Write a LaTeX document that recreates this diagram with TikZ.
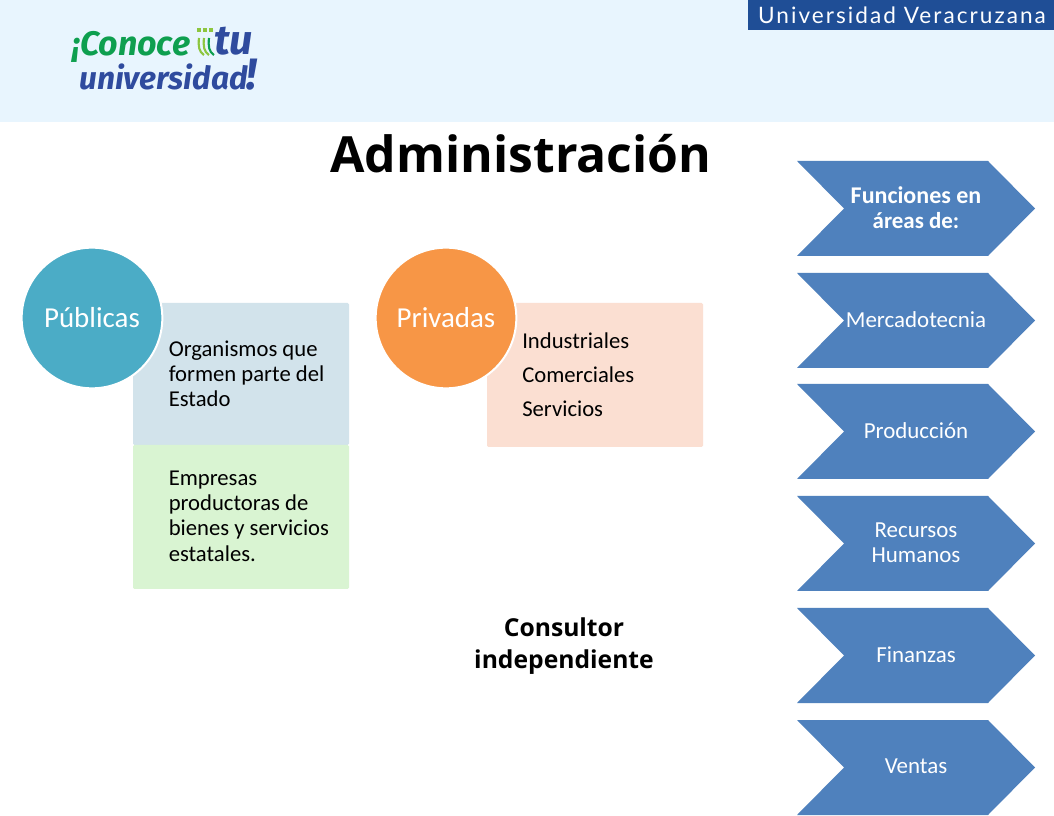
\documentclass[tikz,border=0pt]{standalone}
\usepackage{fontspec}
\setmainfont{Carlito}
\newfontfamily\titlefont{Open Sans}
\newfontfamily\logofont{Fira Sans}
\newfontfamily\barfont[LetterSpace=9]{Lato}
\definecolor{banda}{HTML}{E8F5FE}
\definecolor{barra}{HTML}{1F4E96}
\definecolor{flecha}{HTML}{4F81BD}
\definecolor{azulc}{HTML}{4BACC6}
\definecolor{naranja}{HTML}{F79646}
\definecolor{cajaazul}{HTML}{D2E3EB}
\definecolor{cajaverde}{HTML}{D9F4D2}
\definecolor{cajarosa}{HTML}{FBDFD2}
\definecolor{logoverde}{HTML}{0E9F4F}
\definecolor{logoazul}{HTML}{2F4B9E}
\definecolor{logolima}{HTML}{8DC63F}
\tikzset{
  circulo/.style={circle,draw=white,line width=1.5pt,minimum size=105.5pt,inner sep=0pt,text=white,font=\fontsize{21.7}{26}\selectfont},
  texto/.style={anchor=north west,align=left,inner sep=0pt,font=\fontsize{17}{18.8}\selectfont},
  etiqueta/.style={text=white,align=center,inner sep=0pt,font=\fontsize{17.2}{19}\selectfont},
  logo/.style={inner sep=0pt,anchor=base west,font=\logofont\bfseries\itshape\fontsize{25.5}{26}\selectfont},
}
\begin{document}
\begin{tikzpicture}[x=.75pt,y=-.75pt]
  \useasboundingbox (0,0) rectangle (1054,816);
  % encabezado
  \fill[white] (0,0) rectangle (1054,816);
  \fill[banda] (0,0) rectangle (1054,122);
  \fill[barra] (748,0) rectangle (1054,30);
  \node[text=white!90!banda,inner sep=0pt,font=\barfont\fontsize{16.95}{20}\selectfont] (uv) at (902,15) {Universidad Veracruzana};
  \node[logo,text=logoverde] (conoce) at (72,55.5) {¡Conoce};
  \node[logo,text=logoazul,font=\logofont\bfseries\itshape\fontsize{31}{31}\selectfont] (tu) at (214,55) {tu};
  \node[logo,text=logoazul,font=\logofont\bfseries\itshape\fontsize{23.8}{24}\selectfont] (univ) at (79,89.5) {universidad};
  \node[logo,text=logoazul,font=\logofont\bfseries\itshape\fontsize{33}{33}\selectfont] (excl) at (246,89.5) {!};
  \foreach \xa/\col in {199/logolima,204/logolima,209/logoverde}
    \draw[\col,line width=1.6pt] (\xa,38) .. controls (\xa-1,46) and (\xa,52) .. (\xa+5,55);
  \foreach \xa in {197,203,209}
    \fill[logolima] (\xa,28) rectangle ++(4,4);
  \node[inner sep=0pt,font=\titlefont\bfseries\fontsize{37.4}{44}\selectfont] (titulo) at (521,154) {Administración};
  % publicas
  \fill[cajaazul,rounded corners=1pt] (133,303) rectangle (349,445);
  \fill[cajaverde,rounded corners=1pt] (133,445) rectangle (349,589);
  \node[texto] (orga) at (168.5,341) {Organismos que\\formen parte del\\Estado};
  \node[texto] (empr) at (168.5,471) {Empresas\\productoras de\\bienes y servicios\\estatales.};
  \node[circulo,fill=azulc] (publicas) at (92,318) {Públicas};
  % privadas
  \fill[cajarosa,rounded corners=1pt] (487,303) rectangle (703,447);
  \node[texto,font=\fontsize{17}{25.8}\selectfont] (priv) at (522,332) {Industriales\\Comerciales\\Servicios};
  \node[circulo,fill=naranja] (privadas) at (446,318) {Privadas};
  \node[align=center,inner sep=0pt,font=\titlefont\bfseries\fontsize{18.5}{24}\selectfont] (consultor) at (564,646) {Consultor\\independiente};
  % flechas
  \foreach \ya/\nombre/\txt in {161/f1/{\fontsize{18}{19.5}\selectfont\bfseries Funciones en\\\bfseries áreas de:},273/f2/Mercadotecnia,384/f3/Producción,496/f4/Recursos\\Humanos,608/f5/Finanzas,720/f6/Ventas}{
    \fill[flecha] (797,\ya) -- (988,\ya) -- (1035,\ya+47.5) -- (988,\ya+95) -- (797,\ya+95) -- (844,\ya+47.5) -- cycle;
    \node[etiqueta] (\nombre) at (916,\ya+46.5) {\txt};
  }
\end{tikzpicture}
\end{document}
